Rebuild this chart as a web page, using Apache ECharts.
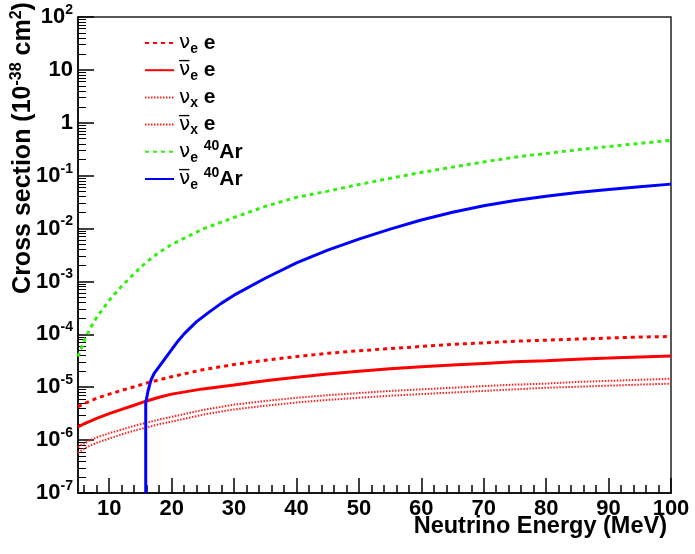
<!DOCTYPE html>
<html>
<head>
<meta charset="utf-8">
<script src="https://cdn.jsdelivr.net/npm/echarts@6/dist/echarts.min.js"></script>
<style>html,body{margin:0;padding:0;background:#fff;}#c{width:695px;height:554px;}</style>
</head>
<body>
<div id="c"></div>
<script>
// ---- data ----
const energies = [5, 6, 7, 8, 10, 12, 14, 16, 18, 20, 25, 30, 35, 40, 45, 50, 55, 60, 65, 70, 75, 80, 85, 90, 95, 100];
const nueE    = [4.3e-6, 4.9e-6, 5.5e-6, 6.2e-6, 7.4e-6, 8.7e-6, 1.02e-5, 1.2e-5, 1.38e-5, 1.58e-5, 2.14e-5, 2.69e-5, 3.24e-5, 3.8e-5, 4.37e-5, 4.9e-5, 5.37e-5, 5.9e-5, 6.46e-5, 6.9e-5, 7.4e-5, 7.76e-5, 8.13e-5, 8.5e-5, 8.9e-5, 9.1e-5];
const nuebarE = [1.78e-6, 2.04e-6, 2.29e-6, 2.57e-6, 3.16e-6, 3.8e-6, 4.57e-6, 5.5e-6, 6.46e-6, 7.4e-6, 9.3e-6, 1.1e-5, 1.32e-5, 1.55e-5, 1.78e-5, 2.0e-5, 2.24e-5, 2.45e-5, 2.63e-5, 2.82e-5, 3.02e-5, 3.16e-5, 3.39e-5, 3.55e-5, 3.72e-5, 3.9e-5];
const nuxE    = [7.41e-7, 8.71e-7, 1.0e-6, 1.12e-6, 1.35e-6, 1.58e-6, 1.86e-6, 2.14e-6, 2.45e-6, 2.75e-6, 3.72e-6, 4.68e-6, 5.5e-6, 6.31e-6, 7.08e-6, 7.76e-6, 8.51e-6, 9.12e-6, 9.77e-6, 1.05e-5, 1.12e-5, 1.17e-5, 1.26e-5, 1.32e-5, 1.38e-5, 1.45e-5];
const nuxbarE = [5.75e-7, 6.92e-7, 7.94e-7, 8.91e-7, 1.07e-6, 1.29e-6, 1.51e-6, 1.74e-6, 2.0e-6, 2.24e-6, 3.02e-6, 3.8e-6, 4.47e-6, 5.13e-6, 5.75e-6, 6.31e-6, 6.92e-6, 7.41e-6, 7.94e-6, 8.51e-6, 9.12e-6, 9.77e-6, 1.02e-5, 1.07e-5, 1.12e-5, 1.17e-5];
const nueAr   = [3.8e-5, 7.6e-5, 1.32e-4, 2.1e-4, 4.4e-4, 8.1e-4, 1.41e-3, 2.34e-3, 3.55e-3, 5.0e-3, 9.8e-3, 1.62e-2, 2.63e-2, 3.9e-2, 5.1e-2, 6.8e-2, 8.9e-2, 0.115, 0.145, 0.182, 0.224, 0.263, 0.309, 0.355, 0.407, 0.468];
const arBarEnergies = [15.85, 15.85, 16.2, 16.7, 17.2, 18, 19, 20, 21, 22, 24, 26, 28, 30, 35, 40, 45, 50, 55, 60, 65, 70, 75, 80, 85, 90, 95, 100];
const nuebarAr = [1e-7, 5e-6, 8.3e-6, 1.38e-5, 1.82e-5, 2.45e-5, 3.55e-5, 5.13e-5, 7.41e-5, 1.02e-4, 1.74e-4, 2.63e-4, 3.89e-4, 5.5e-4, 1.15e-3, 2.24e-3, 3.9e-3, 6.3e-3, 9.77e-3, 1.45e-2, 2.04e-2, 2.69e-2, 3.39e-2, 4.07e-2, 4.79e-2, 5.5e-2, 6.17e-2, 6.92e-2];

const seriesNames = ['νe e', 'ν̄e e', 'νx e', 'ν̄x e', 'νe 40Ar', 'ν̄e 40Ar'];
const legendRich = ['{n|ν}{s|e} {t|e}', '{n|ν̅}{s|e} {t|e}', '{n|ν}{s|x} {t|e}', '{n|ν̅}{s|x} {t|e}', '{n|ν}{s|e} {p|40}{t|Ar}', '{n|ν̅}{s|e} {p|40}{t|Ar}'];
const xTitle = 'Neutrino Energy (MeV)';
const yTitleRich = '{m|Cross section (10}{p|-38}{m| cm}{p|2}{m|)}';

const xMajorTicks = [10, 20, 30, 40, 50, 60, 70, 80, 90, 100];
const xMinorTicks = [6, 8, 12, 14, 16, 18, 22, 24, 26, 28, 32, 34, 36, 38, 42, 44, 46, 48, 52, 54, 56, 58, 62, 64, 66, 68, 72, 74, 76, 78, 82, 84, 86, 88, 92, 94, 96, 98];
const yMajorTicks = [1e-7, 1e-6, 1e-5, 1e-4, 1e-3, 1e-2, 1e-1, 1, 10, 100];
const yMinorMultipliers = [2, 3, 4, 5, 6, 7, 8, 9];

// ---- build ----
const yMinorTicks = [];
yMajorTicks.slice(0, -1).forEach(d => yMinorMultipliers.forEach(m => yMinorTicks.push(m * d)));

const pairs = (xs, ys) => xs.map((x, i) => [x, ys[i]]);
const FONT = 'Liberation Sans';
const black = '#000';

const chart = echarts.init(document.getElementById('c'), null, {renderer: 'canvas'});
const mkLine = (name, xs, ys, color, width, type) => ({
  name, type: 'line', xAxisIndex: 0, yAxisIndex: 0, data: pairs(xs, ys),
  showSymbol: false, symbol: 'none', smooth: false,
  lineStyle: {color, width, type, cap: 'butt'}, itemStyle: {color}
});

chart.setOption({
  animation: false,
  backgroundColor: '#fff',
  grid: {left: 78, right: 24, top: 17, bottom: 61, containLabel: false, outerBoundsMode: 'none',
         show: true, borderColor: '#222', borderWidth: 1.5, backgroundColor: 'transparent'},
  xAxis: [{
    type: 'value', min: 5, max: 100, position: 'bottom',
    axisLine: {show: true, onZero: false, lineStyle: {color: black, width: 1.5}},
    axisTick: {show: true, inside: true, length: 15, customValues: xMajorTicks, lineStyle: {color: black, width: 1.5}},
    axisLabel: {customValues: xMajorTicks, color: black, fontFamily: FONT, fontWeight: 'bold', fontSize: 22, margin: 5},
    splitLine: {show: false}
  }, {
    type: 'value', min: 5, max: 100, position: 'bottom', offset: 0,
    axisLine: {show: false},
    axisTick: {show: true, inside: true, length: 8, customValues: xMinorTicks, lineStyle: {color: black, width: 1.5}},
    axisLabel: {show: false}, splitLine: {show: false}
  }],
  yAxis: [{
    type: 'log', logBase: 10, min: 1e-7, max: 100, position: 'left',
    axisLine: {show: true, onZero: false, lineStyle: {color: black, width: 1.5}},
    axisTick: {show: true, inside: true, length: 16, customValues: yMajorTicks, lineStyle: {color: black, width: 1.5}},
    axisLabel: {
      customValues: yMajorTicks, color: black, fontFamily: FONT, fontWeight: 'bold', fontSize: 22, margin: 5,
      formatter: v => {
        const e = Math.round(Math.log10(v));
        if (e === 0) return '{m|1}';
        if (e === 1) return '{m|10}';
        return '{m|10}{p|' + e + '}';
      },
      rich: {
        m: {fontFamily: FONT, fontWeight: 'bold', fontSize: 22, color: black},
        p: {fontFamily: FONT, fontWeight: 'bold', fontSize: 14, color: black, padding: [0, 0, 14, 0]}
      }
    },
    splitLine: {show: false}
  }, {
    type: 'log', logBase: 10, min: 1e-7, max: 100, position: 'left', offset: 0,
    axisLine: {show: false},
    axisTick: {show: true, inside: true, length: 8, customValues: yMinorTicks, lineStyle: {color: black, width: 1}},
    axisLabel: {show: false}, splitLine: {show: false}
  }],
  legend: {
    orient: 'vertical', left: 144, top: 30, padding: 0, itemWidth: 29, itemHeight: 14, itemGap: 1.2,
    data: seriesNames,
    itemStyle: {opacity: 0},
    formatter: name => legendRich[seriesNames.indexOf(name)],
    textStyle: {
      color: black, fontFamily: FONT, fontWeight: 'bold', fontSize: 21,
      rich: {
        n: {fontFamily: 'DejaVu Sans', fontWeight: 'normal', fontSize: 20, lineHeight: 26, color: black},
        s: {fontFamily: FONT, fontWeight: 'bold', fontSize: 14, lineHeight: 14, color: black, padding: [12, 0, 0, 0]},
        t: {fontFamily: FONT, fontWeight: 'bold', fontSize: 21, lineHeight: 26, color: black},
        p: {fontFamily: FONT, fontWeight: 'bold', fontSize: 14, lineHeight: 14, color: black, padding: [0, 0, 12, 0]}
      }
    }
  },
  graphic: [{
    type: 'text', x: 23, y: 148, rotation: Math.PI / 2,
    style: {
      text: yTitleRich, align: 'center', verticalAlign: 'middle',
      rich: {
        m: {fontFamily: FONT, fontWeight: 'bold', fontSize: 25, fill: black},
        p: {fontFamily: FONT, fontWeight: 'bold', fontSize: 16, fill: black, padding: [0, 0, 13, 0]}
      }
    }
  }, {
    type: 'text', x: 667, y: 527,
    style: {
      text: xTitle, align: 'right', verticalAlign: 'middle',
      fontFamily: FONT, fontWeight: 'bold', fontSize: 23.5, fill: black
    }
  }],
  series: [
    mkLine(seriesNames[0], energies, nueE, '#ff0000', 3, [4, 4]),
    mkLine(seriesNames[1], energies, nuebarE, '#ff0000', 3, 'solid'),
    mkLine(seriesNames[2], energies, nuxE, '#ff2020', 2, [1.5, 1.5]),
    mkLine(seriesNames[3], energies, nuxbarE, '#ff2020', 2, [1.5, 1.5]),
    mkLine(seriesNames[4], energies, nueAr, '#33ee11', 3, [4, 4]),
    mkLine(seriesNames[5], arBarEnergies, nuebarAr, '#0000ff', 3, 'solid')
  ]
});
</script>
</body>
</html>
